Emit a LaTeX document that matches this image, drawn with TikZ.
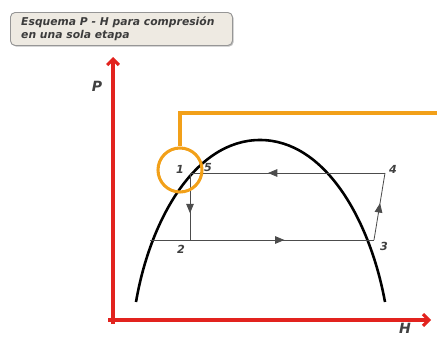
\documentclass[tikz,border=0pt]{standalone}
\usepackage{fontspec}
\setmainfont{DejaVu Sans}
\usetikzlibrary{arrows.meta,decorations.markings,shadows}

\definecolor{axisred}{RGB}{226,35,30}
\definecolor{ringorange}{RGB}{242,160,25}
\definecolor{boxfill}{RGB}{238,234,226}
\definecolor{boxline}{RGB}{150,150,150}
\definecolor{titlegray}{RGB}{60,60,60}

\tikzset{
  axis/.style={axisred, line width=2.6pt, -{Straight Barb[length=5pt,width=10pt,line width=2.6pt]}},
  cycleline/.style={black!70, line width=0.7pt},
  midarrow/.style={postaction={decorate}, decoration={markings,
      mark=at position #1 with {\arrow{Triangle[length=8pt,width=6.5pt]}}}},
  lbl/.style={font=\bfseries\itshape\fontsize{9.5}{11}\selectfont, text=black!75, inner sep=1pt},
}

\begin{document}
\begin{tikzpicture}[x=0.03cm, y=-0.03cm]
	\useasboundingbox (0,0) rectangle (437,337);

	% title box
	\node[draw=boxline, fill=boxfill, rounded corners=4pt, line width=0.8pt,
	      minimum width=222*0.03cm, minimum height=33*0.03cm, anchor=north west,
	      drop shadow={shadow xshift=1pt, shadow yshift=-1pt}] (titlebox) at (10,12) {};
	\node[anchor=west, align=left, text=titlegray, inner sep=0pt,
	      font=\bfseries\itshape\fontsize{9.2}{11.2}\selectfont] (title) at (21,28.5)
	      {Esquema P - H para compresión\\en una sola etapa};

	% axes
	\coordinate (origin) at (113,320);
	\coordinate (ptip) at (113,57);
	\coordinate (htip) at (431,320);
	\draw[axis] (113,324) -- (ptip);
	\draw[axis] (108,320) -- (htip);
	\node[lbl, font=\bfseries\itshape\fontsize{12}{13}\selectfont] (plabel) at (97,86) {P};
	\node[lbl, font=\bfseries\itshape\fontsize{12}{13}\selectfont] (hlabel) at (405,328) {H};

	% saturation dome
	\draw[black, line width=2.2pt] (136,302) .. controls (150,220) and (195,140) .. (260,140)
	                                   .. controls (325,140) and (370,220) .. (385,302);

	% cycle points
	\coordinate (p1) at (190,173);
	\coordinate (p5) at (190,173);
	\coordinate (p4) at (385,173);
	\coordinate (p2) at (190,240);
	\coordinate (p2l) at (150,240);
	\coordinate (p3) at (374,240);

	\draw[cycleline, midarrow=0.6] (p4) -- (p5);
	\draw[cycleline, midarrow=0.6] (p1) -- (p2);
	\draw[cycleline, midarrow=0.6] (p2l) -- (p3);
	\draw[cycleline, midarrow=0.55] (p3) -- (p4);

	\node[lbl] (l1) at (180,169) {1};
	\node[lbl] (l5) at (208,168) {5};
	\node[lbl] (l4) at (393,169) {4};
	\node[lbl] (l2) at (181,249) {2};
	\node[lbl] (l3) at (384,246) {3};

	% highlight ring
	\node[draw=ringorange, circle, line width=2.6pt, minimum size=44*0.03cm, inner sep=0pt] (ring) at (180,170) {};
	\draw[ringorange, line width=2.6pt] (ring.north) |- (437,113);
\end{tikzpicture}
\end{document}
